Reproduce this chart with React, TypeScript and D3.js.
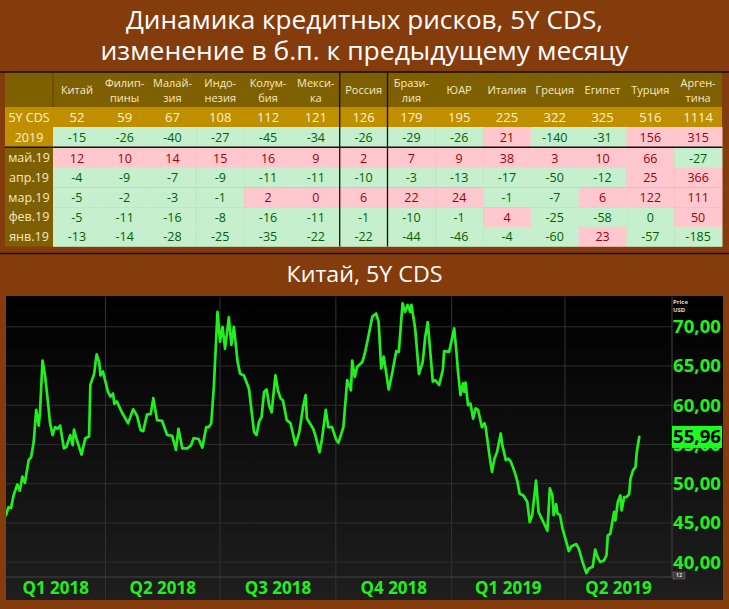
import * as d3 from 'd3';

// ---- table data ----
const countries = ['Китай', 'Филиппины', 'Малайзия', 'Индонезия', 'Колумбия', 'Мексика', 'Россия', 'Бразилия', 'ЮАР', 'Италия', 'Греция', 'Египет', 'Турция', 'Аргентина'];
const headerLines = [['Китай'], ['Филип-', 'пины'], ['Малай-', 'зия'], ['Индо-', 'незия'], ['Колум-', 'бия'], ['Мекси-', 'ка'], ['Россия'], ['Брази-', 'лия'], ['ЮАР'], ['Италия'], ['Греция'], ['Египет'], ['Турция'], ['Арген-', 'тина']];
const cds5y = [52, 59, 67, 108, 112, 121, 126, 179, 195, 225, 322, 325, 516, 1114];
const change2019 = [-15, -26, -40, -27, -45, -34, -26, -29, -26, 21, -140, -31, 156, 315];
const monthLabels = ['май.19', 'апр.19', 'мар.19', 'фев.19', 'янв.19'];
const changeMay = [12, 10, 14, 15, 16, 9, 2, 7, 9, 38, 3, 10, 66, -27];
const changeApr = [-4, -9, -7, -9, -11, -11, -10, -3, -13, -17, -50, -12, 25, 366];
const changeMar = [-5, -2, -3, -1, 2, 0.3, 6, 22, 24, -1, -7, 6, 122, 111];
const changeFeb = [-5, -11, -16, -8, -16, -11, -1, -10, -1, 4, -25, -58, -0.3, 50];
const changeJan = [-13, -14, -28, -25, -35, -22, -22, -44, -46, -4, -60, 23, -57, -185];
const monthChanges = [changeMay, changeApr, changeMar, changeFeb, changeJan];

// ---- China 5Y CDS ----
const dates2018 = [
  '2018-01-12', '2018-01-14', '2018-01-16', '2018-01-18', '2018-01-21', '2018-01-23', '2018-01-25', '2018-01-27', '2018-01-30',
  '2018-02-01', '2018-02-03', '2018-02-05', '2018-02-07', '2018-02-08', '2018-02-10', '2018-02-12', '2018-02-14', '2018-02-16',
  '2018-02-18', '2018-02-20', '2018-02-22', '2018-02-24', '2018-02-27', '2018-03-01', '2018-03-04', '2018-03-06', '2018-03-07',
  '2018-03-09', '2018-03-13', '2018-03-16', '2018-03-19', '2018-03-20', '2018-03-23', '2018-03-25', '2018-03-27', '2018-03-28',
  '2018-03-30', '2018-04-01', '2018-04-03', '2018-04-05', '2018-04-07', '2018-04-08', '2018-04-10', '2018-04-14', '2018-04-19',
  '2018-04-23', '2018-04-26', '2018-04-29', '2018-05-01', '2018-05-04', '2018-05-07', '2018-05-09', '2018-05-12', '2018-05-16',
  '2018-05-20', '2018-05-24', '2018-05-27', '2018-05-29', '2018-06-01', '2018-06-05', '2018-06-08', '2018-06-10', '2018-06-14',
  '2018-06-17', '2018-06-20', '2018-06-22', '2018-06-24', '2018-06-26', '2018-06-29', '2018-07-01', '2018-07-03', '2018-07-05',
  '2018-07-08', '2018-07-10', '2018-07-12', '2018-07-15', '2018-07-17', '2018-07-20', '2018-07-24', '2018-07-28', '2018-07-30',
  '2018-08-01', '2018-08-03', '2018-08-05', '2018-08-07', '2018-08-09', '2018-08-11', '2018-08-14', '2018-08-16', '2018-08-18',
  '2018-08-20', '2018-08-23', '2018-08-26', '2018-08-30', '2018-09-02', '2018-09-05', '2018-09-07', '2018-09-08', '2018-09-13',
  '2018-09-15', '2018-09-18', '2018-09-20', '2018-09-23', '2018-09-25', '2018-09-28', '2018-10-01', '2018-10-03', '2018-10-07',
  '2018-10-10', '2018-10-13', '2018-10-14', '2018-10-16', '2018-10-18', '2018-10-22', '2018-10-24', '2018-10-26', '2018-10-30',
  '2018-11-02', '2018-11-04', '2018-11-06', '2018-11-08', '2018-11-12', '2018-11-15', '2018-11-18', '2018-11-20', '2018-11-23',
  '2018-11-25', '2018-11-27', '2018-11-29', '2018-11-30', '2018-12-03', '2018-12-06', '2018-12-09', '2018-12-11', '2018-12-13',
  '2018-12-15', '2018-12-17', '2018-12-19', '2018-12-22', '2018-12-25', '2018-12-26', '2018-12-30',
];
const values2018 = [
  46.0, 47.0, 46.9, 48.5, 49.9, 49.1, 50.9, 50.1, 53.0,
  53.4, 55.3, 59.4, 57.4, 59.1, 65.7, 63.8, 60.9, 57.7,
  56.2, 57.2, 57.0, 57.4, 54.5, 54.7, 56.2, 54.9, 56.9,
  55.7, 53.7, 55.8, 56.0, 62.6, 64.0, 66.5, 65.5, 63.8,
  64.3, 63.0, 61.7, 61.1, 61.5, 60.2, 60.5, 59.1, 57.7,
  59.5, 58.7, 56.8, 56.7, 58.8, 58.9, 60.9, 58.1, 58.0,
  56.2, 56.1, 54.3, 57.0, 54.5, 54.5, 54.9, 55.8, 55.7,
  54.6, 57.2, 57.2, 57.7, 62.1, 71.9, 68.1, 70.0, 67.2,
  71.2, 67.7, 70.0, 65.5, 64.0, 63.8, 62.1, 56.6, 56.2,
  57.9, 58.5, 61.7, 62.0, 60.0, 59.1, 63.8, 61.9, 60.9,
  60.6, 58.1, 57.7, 54.9, 56.6, 59.8, 61.3, 58.3, 57.0,
  56.0, 54.0, 55.7, 59.4, 57.2, 57.2, 55.7, 55.2, 57.2,
  63.2, 61.9, 65.7, 63.6, 64.9, 65.5, 66.6, 68.1, 71.3,
  71.7, 70.6, 64.7, 66.2, 62.0, 64.3, 66.9, 66.8, 73.0,
  71.9, 72.8, 71.9, 72.8, 69.8, 64.0, 65.5, 68.7, 70.6,
  66.8, 63.0, 63.2, 62.6, 64.5, 66.9, 66.8,
];
const dates2019 = [
  '2019-01-03', '2019-01-05', '2019-01-06', '2019-01-08', '2019-01-10', '2019-01-11', '2019-01-12', '2019-01-14', '2019-01-16',
  '2019-01-18', '2019-01-20', '2019-01-22', '2019-01-25', '2019-01-27', '2019-01-28', '2019-01-31', '2019-02-02', '2019-02-04',
  '2019-02-06', '2019-02-09', '2019-02-10', '2019-02-13', '2019-02-15', '2019-02-17', '2019-02-20', '2019-02-22', '2019-02-24',
  '2019-02-27', '2019-03-02', '2019-03-04', '2019-03-06', '2019-03-09', '2019-03-11', '2019-03-13', '2019-03-16', '2019-03-18',
  '2019-03-20', '2019-03-22', '2019-03-23', '2019-03-25', '2019-03-26', '2019-03-28', '2019-03-30', '2019-04-02', '2019-04-04',
  '2019-04-06', '2019-04-10', '2019-04-12', '2019-04-15', '2019-04-18', '2019-04-20', '2019-04-23', '2019-04-25', '2019-04-27',
  '2019-04-29', '2019-05-02', '2019-05-04', '2019-05-05', '2019-05-07', '2019-05-09', '2019-05-10', '2019-05-11', '2019-05-13',
  '2019-05-15', '2019-05-16', '2019-05-18', '2019-05-20', '2019-05-22', '2019-05-23', '2019-05-25', '2019-05-27', '2019-05-28',
  '2019-05-30',
];
const values2019 = [
  69.8, 66.4, 64.3, 61.3, 62.8, 61.7, 62.9, 60.0, 60.2,
  58.3, 59.6, 59.4, 57.2, 57.7, 57.2, 53.6, 51.5, 53.2,
  54.0, 56.4, 55.1, 53.0, 53.2, 52.8, 51.5, 50.4, 48.7,
  48.5, 47.7, 45.1, 46.0, 50.4, 46.4, 45.7, 44.7, 44.0,
  49.4, 48.5, 46.0, 47.4, 46.2, 46.0, 44.3, 42.6, 41.4,
  42.0, 42.3, 41.7, 40.0, 38.6, 39.2, 39.4, 41.6, 40.6,
  40.0, 40.2, 40.9, 43.4, 43.6, 45.5, 46.4, 45.3, 47.7,
  48.5, 46.6, 48.3, 48.3, 48.7, 50.6, 51.7, 52.1, 54.0,
  55.96,
];
const yTicks = [40, 45, 50, 55, 60, 65, 70];
const quarterStarts = ['2018-01-01', '2018-04-01', '2018-07-01', '2018-10-01', '2019-01-01', '2019-04-01', '2019-07-01'];
const quarterLabels = ['Q1 2018', 'Q2 2018', 'Q3 2018', 'Q4 2018', 'Q1 2019', 'Q2 2019'];

const W = 729;
const H = 609;
const BROWN = '#843c0c';
const GREEN = '#22f01e';
const FONT = '"Open Sans", "Noto Sans", sans-serif';

const parse = d3.utcParse('%Y-%m-%d');

export default function App() {
  // table geometry
  const tLeft = 5;
  const tRight = 722;
  const labelRight = 53;
  const col = d3.scaleBand<string>().domain(countries).range([labelRight, tRight]);
  const cw = col.bandwidth();
  const headTop = 72.5;
  const headBottom = 107;
  const cdsRow = [107, 127];
  const ytdRow = [127, 147];
  const monthRow = d3.scaleBand<string>().domain(monthLabels).range([148, 246.5]);
  const rh = monthRow.bandwidth();

  const cellFill = (v: number) => (v > 0 ? '#ffc7ce' : '#c6efce');
  const cellText = (v: number) => (v > 0 ? '#9c0006' : '#006100');
  const fmt = (v: number) => String(Math.round(v) === 0 ? 0 : Math.round(v));

  // chart geometry
  const panel = { x0: 6, x1: 723, y0: 296, y1: 600 };
  const plot = { x0: 6, x1: 672, y0: 297, y1: 577 };
  const x = d3.scaleUtc()
    .domain([parse('2018-01-12')!, parse('2019-06-25')!])
    .range([plot.x0, plot.x1]);
  const y = d3.scaleLinear().domain([38.1, 73.8]).range([plot.y1, plot.y0]);

  const series = [
    ...dates2018.map((d, i) => ({ date: parse(d)!, value: values2018[i] })),
    ...dates2019.map((d, i) => ({ date: parse(d)!, value: values2019[i] })),
  ];
  const line = d3.line<{ date: Date; value: number }>()
    .x(d => x(d.date))
    .y(d => y(d.value));
  const last = series[series.length - 1];
  const qDates = quarterStarts.map(s => parse(s)!);
  const fmtTick = (v: number) => d3.format('.2f')(v).replace('.', ',');

  const rowCells = (vals: number[], top: number, h: number, key: string) =>
    vals.map((v, i) => (
      <g key={key + i}>
        <rect x={col(countries[i])!} y={top} width={cw + 0.5} height={h} fill={cellFill(v)} />
        <text x={col(countries[i])! + cw / 2} y={top + h / 2} dy="0.36em" textAnchor="middle"
          fontSize={12.5} fill={cellText(v)}>{fmt(v)}</text>
      </g>
    ));

  return (
    <div style={{ position: 'fixed', left: 0, top: 0 }}>
      <svg width={W} height={H} fontFamily={FONT} style={{ display: 'block' }}>
        <defs>
          <linearGradient id="panelGrad" x1="0" y1="0" x2="0" y2="1">
            <stop offset="0" stopColor="#000000" />
            <stop offset="1" stopColor="#1e1e1e" />
          </linearGradient>
          <clipPath id="plotClip">
            <rect x={plot.x0} y={plot.y0} width={plot.x1 - plot.x0} height={plot.y1 - plot.y0} />
          </clipPath>
        </defs>
        <rect width={W} height={H} fill={BROWN} />

        {/* titles */}
        <text x={W / 2} y={20} dy="0.36em" textAnchor="middle" fill="#fff" fontSize={25}
          textLength={477} lengthAdjust="spacingAndGlyphs">Динамика кредитных рисков, 5Y CDS,</text>
        <text x={W / 2} y={51} dy="0.36em" textAnchor="middle" fill="#fff" fontSize={25}
          textLength={528} lengthAdjust="spacingAndGlyphs">изменение в б.п. к предыдущему месяцу</text>

        {/* table header */}
        <rect x={tLeft} y={headTop} width={tRight - tLeft} height={headBottom - headTop} fill="#7f6000" />
        <rect x={tLeft} y={cdsRow[0]} width={tRight - tLeft} height={ytdRow[1] - cdsRow[0]} fill="#bf8f00" />
        <rect x={tLeft} y={148} width={labelRight - tLeft} height={246.5 - 148} fill="#7f6000" />
        {countries.map((c, i) => {
          const lines = headerLines[i];
          const cx = col(c)! + cw / 2;
          return lines.map((l, j) => (
            <text key={c + j} x={cx} y={lines.length === 1 ? 90 : 83 + j * 15} dy="0.36em"
              textAnchor="middle" fontSize={11} fill="#f6e8c6">{l}</text>
          ));
        })}
        <line x1={labelRight} x2={labelRight} y1={headTop} y2={headBottom} stroke="#5a4300" strokeWidth={1} />

        {/* 5Y CDS row */}
        <text x={(tLeft + labelRight) / 2} y={(cdsRow[0] + cdsRow[1]) / 2} dy="0.36em" textAnchor="middle"
          fontSize={12.5} fill="#fff2cc">5Y CDS</text>
        {cds5y.map((v, i) => (
          <text key={'c' + i} x={col(countries[i])! + cw / 2} y={(cdsRow[0] + cdsRow[1]) / 2} dy="0.36em"
            textAnchor="middle" fontSize={13} fill="#fff2cc">{v}</text>
        ))}

        {/* 2019 row */}
        <text x={(tLeft + labelRight) / 2} y={(ytdRow[0] + ytdRow[1]) / 2} dy="0.36em" textAnchor="middle"
          fontSize={12.5} fill="#fff2cc">2019</text>
        {rowCells(change2019, ytdRow[0], ytdRow[1] - ytdRow[0], 'y')}

        {/* monthly rows */}
        {monthLabels.map((m, r) => (
          <g key={m}>
            <text x={(tLeft + labelRight) / 2} y={monthRow(m)! + rh / 2} dy="0.36em" textAnchor="middle"
              fontSize={12.5} fill="#f6e8c6">{m}</text>
            {rowCells(monthChanges[r], monthRow(m)!, rh + 0.3, m)}
          </g>
        ))}

        {/* table rules */}
        <line x1={0} x2={W} y1={72} y2={72} stroke="#111" strokeWidth={1.5} />
        <line x1={tLeft} x2={tRight} y1={147.3} y2={147.3} stroke="#111" strokeWidth={1.5} />
        {[col('Россия')!, col('Россия')! + cw].map((vx, i) => (
          <line key={'v' + i} x1={vx} x2={vx} y1={72} y2={246.5} stroke="#111" strokeWidth={1.3} />
        ))}
        <line x1={0} x2={W} y1={253.5} y2={253.5} stroke="#111" strokeWidth={1.5} />

        {/* chart title */}
        <text x={W / 2} y={274} dy="0.36em" textAnchor="middle" fill="#fff" fontSize={21}
          textLength={156} lengthAdjust="spacingAndGlyphs">Китай, 5Y CDS</text>

        {/* chart panel */}
        <rect x={panel.x0} y={panel.y0} width={panel.x1 - panel.x0} height={panel.y1 - panel.y0} fill="url(#panelGrad)" />
        {yTicks.map(t => (
          <line key={'g' + t} x1={plot.x0} x2={plot.x1} y1={y(t)} y2={y(t)} stroke="#2e2e2e" strokeWidth={1} />
        ))}
        {qDates.slice(1, -1).map((d, i) => (
          <line key={'q' + i} x1={x(d)} x2={x(d)} y1={plot.y0} y2={panel.y1} stroke="#333" strokeWidth={1} />
        ))}
        <line x1={plot.x1} x2={plot.x1} y1={plot.y0} y2={plot.y1 + 1} stroke="#444" strokeWidth={1} />
        <line x1={plot.x0} x2={plot.x1} y1={plot.y1} y2={plot.y1} stroke="#444" strokeWidth={1} />

        <path d={line(series) ?? ''} fill="none" stroke={GREEN} strokeWidth={2.7}
          strokeLinejoin="round" strokeLinecap="round" clipPath="url(#plotClip)" />

        {/* y axis */}
        <text x={673} y={302} fontSize={6} fontWeight="bold" fill="#ddd" dy="0.36em">Price</text>
        <text x={673} y={310} fontSize={6} fontWeight="bold" fill="#ddd" dy="0.36em">USD</text>
        {yTicks.map(t => (
          <text key={'t' + t} x={673} y={y(t)} dy="0.36em" fontSize={18} fontWeight="bold" fill={GREEN}
            textLength={48} lengthAdjust="spacingAndGlyphs">{fmtTick(t)}</text>
        ))}
        <rect x={672} y={y(last.value) - 11} width={50} height={22} fill="#1cff1c" />
        <text x={673} y={y(last.value)} dy="0.36em" fontSize={18} fontWeight="bold" fill="#000"
          textLength={48} lengthAdjust="spacingAndGlyphs">{fmtTick(last.value)}</text>
        <rect x={673} y={572} width={12} height={7} fill="#3a3a3a" stroke="#777" strokeWidth={0.5} />
        <text x={679} y={575.8} dy="0.3em" textAnchor="middle" fontSize={5.5} fontWeight="bold" fill="#ddd">12</text>

        {/* x axis quarters */}
        {quarterLabels.map((q, i) => {
          const a = Math.max(plot.x0, x(qDates[i]));
          const b = Math.min(plot.x1, x(qDates[i + 1]));
          return (
            <text key={q} x={(a + b) / 2} y={588} dy="0.36em" textAnchor="middle" fontSize={17}
              fontWeight="bold" fill={GREEN}>{q}</text>
          );
        })}
      </svg>
    </div>
  );
}
